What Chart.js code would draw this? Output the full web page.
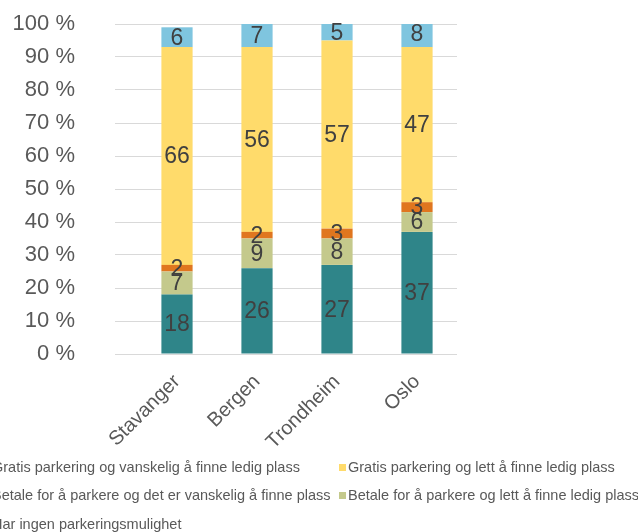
<!DOCTYPE html>
<html>
<head>
<meta charset="utf-8">
<script src="https://cdn.jsdelivr.net/npm/chart.js@4/dist/chart.umd.min.js"></script>
<style>
  body { margin: 0; background: #fff; overflow: hidden; }
  #wrap { position: relative; width: 638px; height: 532px; }
  #legend { position: absolute; left: 0; top: 0; width: 638px; height: 532px;
            font-family: "Liberation Sans", Arial, sans-serif; font-size: 14.5px; color: #595959; }
  .item { position: absolute; white-space: nowrap; line-height: 16px; }
  .box { display: inline-block; width: 7px; height: 7px; margin-right: 2px; vertical-align: 1px; }
</style>
</head>
<body>
<div id="wrap">
  <canvas id="chart" width="638" height="450"></canvas>
  <div id="legend"></div>
</div>
<script>
const cities = ["Stavanger", "Bergen", "Trondheim", "Oslo"];
const betaleVanskelig = [18, 26, 27, 37];
const betaleLett = [7, 9, 8, 6];
const gratisVanskelig = [2, 2, 3, 3];
const gratisLett = [66, 56, 57, 47];
const ingenParkering = [6, 7, 5, 8];
const yTicks = [0, 10, 20, 30, 40, 50, 60, 70, 80, 90, 100];

const seriesNames = [
    "Betale for å parkere og det er vanskelig å finne plass",
    "Betale for å parkere og lett å finne ledig plass",
    "Gratis parkering og vanskelig å finne ledig plass",
    "Gratis parkering og lett å finne ledig plass",
    "Har ingen parkeringsmulighet"
];
const seriesColors = ["#2f8589", "#c4c98c", "#e0761f", "#ffdb6b", "#7fc5df"];
const seriesData = [betaleVanskelig, betaleLett, gratisVanskelig, gratisLett, ingenParkering];
// legend reads row by row, two columns
const legendOrder = [2, 3, 0, 1, 4];

const FONT = "'Liberation Sans', Arial, sans-serif";

const barLabels = {
    id: "barLabels",
    afterDatasetsDraw(chart) {
        const ctx = chart.ctx;
        ctx.save();
        ctx.font = "23px " + FONT;
        ctx.fillStyle = "#404040";
        ctx.textAlign = "center";
        ctx.textBaseline = "middle";
        chart.data.datasets.forEach(function(ds, i) {
            chart.getDatasetMeta(i).data.forEach(function(bar, j) {
                ctx.fillText(ds.data[j], bar.x, (bar.y + bar.base) / 2 + 1);
            });
        });
        ctx.restore();
    }
};

new Chart(document.getElementById("chart"), {
    type: "bar",
    data: {
        labels: cities,
        datasets: seriesData.map(function(d, i) {
            return {
                label: seriesNames[i],
                data: d,
                backgroundColor: seriesColors[i],
                categoryPercentage: 1,
                barPercentage: 0.39
            };
        })
    },
    options: {
        responsive: false,
        animation: false,
        layout: { padding: { top: 0, right: 181, left: 0, bottom: 0 } },
        plugins: {
            legend: { display: false },
            tooltip: { enabled: false }
        },
        scales: {
            x: {
                stacked: true,
                grid: { display: false },
                border: { display: false },
                ticks: {
                    minRotation: 45,
                    maxRotation: 45,
                    padding: 8,
                    color: "#595959",
                    font: { size: 20, family: FONT }
                },
                afterFit(scale) { scale.height = 96; }
            },
            y: {
                stacked: true,
                min: 0,
                max: 100,
                afterBuildTicks(scale) { scale.ticks = yTicks.map(v => ({ value: v })); },
                grid: { color: "#d9d9d9", tickColor: "#d9d9d9", tickLength: 22 },
                border: { display: false },
                ticks: {
                    padding: 40,
                    color: "#595959",
                    font: { size: 22, family: FONT },
                    callback: v => v + " %"
                },
                afterFit(scale) {
                    scale.width = 137;
                    scale.paddingTop = 24;
                    scale.paddingBottom = 0;
                }
            }
        }
    },
    plugins: [barLabels]
});

const legend = document.getElementById("legend");
const colX = [-17, 339];
const rowY = [459, 487, 516];
legendOrder.forEach(function(idx, k) {
    const el = document.createElement("div");
    el.className = "item";
    el.style.left = colX[k % 2] + "px";
    el.style.top = rowY[Math.floor(k / 2)] + "px";
    el.innerHTML = '<span class="box" style="background:' + seriesColors[idx] + '"></span>' + seriesNames[idx];
    legend.appendChild(el);
});
</script>
</body>
</html>
